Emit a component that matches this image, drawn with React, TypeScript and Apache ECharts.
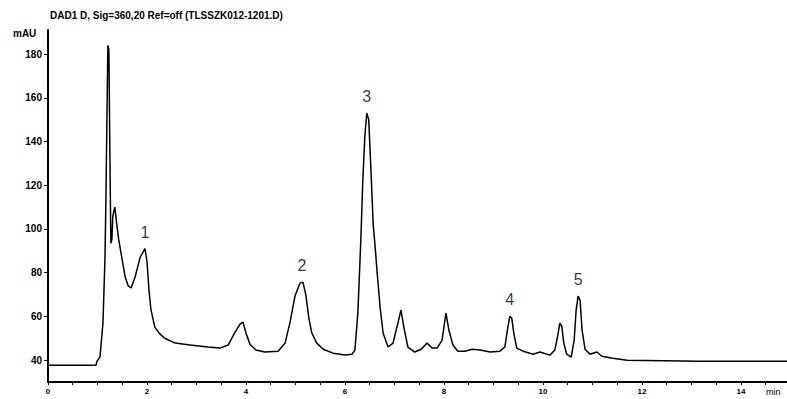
import React, { useEffect, useRef } from "react";
import * as echarts from "echarts";

const title = "DAD1 D, Sig=360,20 Ref=off (TLSSZK012-1201.D)";
const yUnit = "mAU";
const xUnit = "min";

const times = [
  0, 0.97, 0.99, 1.05, 1.11, 1.15, 1.17, 1.19, 1.21, 1.23, 1.25, 1.27, 1.29, 1.31, 1.35, 1.39, 1.43, 1.49, 1.56, 1.62,
  1.68, 1.76, 1.86, 1.96, 2.0, 2.04, 2.08, 2.16, 2.26, 2.36, 2.57, 2.87, 3.23, 3.47, 3.64, 3.76, 3.88, 3.94, 4.0, 4.08,
  4.2, 4.38, 4.65, 4.79, 4.89, 4.99, 5.09, 5.15, 5.21, 5.27, 5.33, 5.43, 5.56, 5.76, 6.0, 6.14, 6.2, 6.26, 6.32, 6.36,
  6.4, 6.44, 6.48, 6.53, 6.57, 6.61, 6.65, 6.71, 6.77, 6.87, 6.97, 7.07, 7.13, 7.19, 7.27, 7.41, 7.54, 7.66, 7.76, 7.86,
  7.96, 8.04, 8.1, 8.18, 8.28, 8.42, 8.57, 8.73, 8.93, 9.13, 9.23, 9.29, 9.33, 9.37, 9.41, 9.47, 9.6, 9.8, 9.94, 10.14,
  10.24, 10.3, 10.34, 10.38, 10.42, 10.48, 10.57, 10.63, 10.67, 10.71, 10.75, 10.79, 10.85, 10.95, 11.09, 11.19, 11.41,
  11.7, 13.17, 14.93,
];
const signal = [
  37.7, 37.7, 39.5, 41.4, 56.9, 85.7, 113, 150, 184, 182, 135, 93.5, 95, 106, 110, 102, 95, 87, 78, 74,
  73, 78, 87, 91, 85, 72, 63, 55, 52, 50, 47.8, 46.9, 46, 45.5, 46.9, 52, 56.5, 57.4, 52.4, 47.3,
  44.6, 43.7, 44.1, 47.8, 57.4, 69.3, 75.2, 75.7, 69.7, 59.2, 52.4, 47.8, 45, 43.2, 42.3, 42.7, 44.6, 61.5, 95, 122,
  142, 153, 150, 124, 102, 91.7, 80, 64, 52.4, 46, 47.8, 57, 62.9, 55, 46, 43.7, 45, 47.8, 45.5, 45.5,
  49, 61.5, 53.7, 46.9, 44.1, 44.1, 45, 44.6, 43.7, 44.1, 46, 55, 60.1, 59.2, 52.4, 45.5, 44.1, 42.7, 43.7, 42.3,
  44.6, 51.4, 56.9, 55.5, 47.8, 42.7, 41.4, 49, 62.9, 69.3, 67.4, 53.7, 45, 42.7, 43.7, 41.8, 40.9,
  40, 39.5, 39.5,
];

const peakNames = ["1", "2", "3", "4", "5"];
const peakTimes = [1.96, 5.13, 6.44, 9.33, 10.71];
const peakValues = [91, 75.7, 153, 60.1, 69.3];

const yTickValues = [40, 60, 80, 100, 120, 140, 160, 180];
const xLabelValues = [0, 2, 4, 6, 8, 10, 12, 14];
const xTickValues = [0, 0.5, 1, 1.5, 2, 2.5, 3, 3.5, 4, 4.5, 5, 5.5, 6, 6.5, 7, 7.5, 8, 8.5, 9, 9.5, 10, 10.5, 11, 11.5, 12, 12.5, 13, 13.5, 14, 14.5];

export default function App() {
  const ref = useRef<HTMLDivElement>(null);
  useEffect(() => {
    if (!ref.current) return;
    const chart = echarts.init(ref.current, null, { renderer: "svg" });
    const line = times.map((t, i) => [t, signal[i]]);
    const peaks = peakTimes.map((t, i) => ({ value: [t, peakValues[i]], name: peakNames[i] }));
    chart.setOption({
      animation: false,
      backgroundColor: "#ffffff",
      grid: { left: 48, right: 0, top: 30, bottom: 17, containLabel: false },
      xAxis: {
        type: "value",
        min: 0,
        max: 14.93,
        splitLine: { show: false },
        axisLine: { show: true, onZero: false, lineStyle: { color: "#000", width: 2 } },
        axisTick: { show: true, customValues: xTickValues, length: 3, lineStyle: { color: "#000", width: 1 } },
        axisLabel: {
          customValues: xLabelValues,
          color: "#000",
          fontSize: 8,
          fontWeight: "bold",
          fontFamily: "Liberation Sans",
          margin: 5,
        },
      },
      yAxis: {
        type: "value",
        min: 30,
        max: 191,
        splitLine: { show: false },
        axisLine: { show: true, lineStyle: { color: "#000", width: 2 } },
        axisTick: { show: true, customValues: yTickValues, length: 4, lineStyle: { color: "#000", width: 1 } },
        axisLabel: {
          customValues: yTickValues,
          color: "#000",
          fontSize: 10,
          fontWeight: "bold",
          fontFamily: "Liberation Sans",
          margin: 6,
        },
      },
      series: [
        {
          type: "line",
          data: line,
          showSymbol: false,
          symbol: "none",
          lineStyle: { color: "#000", width: 1.5 },
          z: 3,
        },
        {
          type: "scatter",
          data: peaks,
          symbolSize: 1,
          itemStyle: { color: "rgba(0,0,0,0)" },
          label: {
            show: true,
            position: "top",
            distance: 8,
            formatter: (p: any) => p.name,
            color: "#000",
            fontSize: 16,
            fontFamily: "Liberation Sans",
          },
          z: 4,
        },
      ],
      graphic: [
        {
          type: "text",
          left: 50,
          top: 10,
          style: { text: title, fill: "#000", fontSize: 10, fontWeight: "bold", fontFamily: "Liberation Sans" },
        },
        {
          type: "text",
          left: 13,
          top: 28,
          style: { text: yUnit, fill: "#000", fontSize: 10, fontWeight: "bold", fontFamily: "Liberation Sans" },
        },
        {
          type: "text",
          left: 766,
          top: 387,
          style: { text: xUnit, fill: "#000", fontSize: 9, fontFamily: "Liberation Sans" },
        },
      ],
    });
    return () => chart.dispose();
  }, []);
  return <div ref={ref} style={{ position: "fixed", left: 0, top: 0, width: 787, height: 399, background: "#fff" }} />;
}
